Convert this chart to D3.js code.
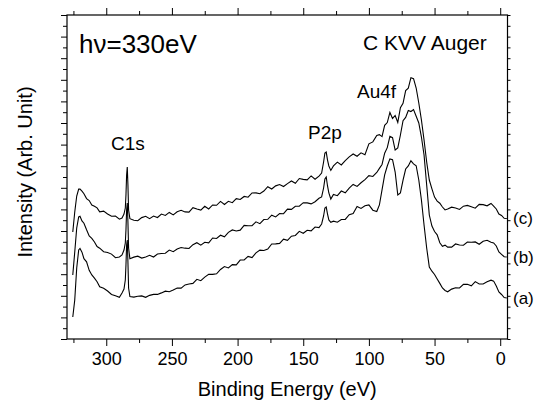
<!DOCTYPE html>
<html>
<head>
<meta charset="utf-8">
<script src="https://cdn.jsdelivr.net/npm/d3@7"></script>
<style>
  body { margin: 0; background: #fff; }
  svg { font-family: "Liberation Sans", Arial, sans-serif; }
</style>
</head>
<body>
<div id="chart"></div>
<script>
// binding energy grid (eV), shared by the three spectra
const energy = [325.5, 324, 322.5, 321, 320, 318.5, 317, 315, 313, 311, 309, 307, 305, 302, 299, 296, 293, 290, 288, 286.5,
  285.5, 285, 284.5, 284, 283.5, 283, 282, 279, 276, 273, 270, 267, 264, 261, 258, 255, 252, 249, 246, 243,
  240, 237, 234, 231, 228, 225, 222, 219, 216, 213, 210, 207, 204, 201, 198, 195, 192, 189, 186, 183,
  180, 177, 174, 171, 168, 165, 162, 159, 156, 153, 150, 147, 144, 141, 138, 136, 134.5, 133.5, 132.5, 131.5,
  130.5, 129, 127, 124, 121, 118, 115, 112, 109, 106, 103, 100, 97, 94, 92, 90, 88, 86, 84, 82,
  80, 78, 76, 74, 72, 70, 68, 66, 64, 62, 60, 58, 56, 54, 52, 50, 48, 46, 44, 42,
  40, 37, 34, 31, 28, 25, 22, 19, 16, 13, 10, 7, 5, 3, 1, -1, -3, -5];

// intensities (arb. unit, spectra offset)
const specA = [2.04, 3.61, 6.57, 8.24, 8.38, 8.04, 7.44, 7.14, 6.36, 5.93, 5.63, 5.30, 4.83, 4.69, 4.44, 4.12, 4.01, 3.87, 4.26, 4.63,
  5.46, 6.85, 8.70, 9.17, 7.13, 4.72, 3.93, 3.88, 3.96, 3.99, 3.86, 4.04, 4.13, 4.13, 4.27, 4.43, 4.37, 4.53, 4.72, 4.71,
  5.01, 5.09, 5.15, 5.53, 5.40, 5.73, 5.99, 5.98, 6.04, 6.44, 6.71, 6.58, 6.89, 6.86, 7.31, 7.32, 7.65, 7.54, 7.97, 8.23,
  8.20, 8.33, 8.80, 8.81, 8.85, 9.24, 9.13, 9.52, 9.59, 9.97, 9.79, 10.07, 10.01, 10.37, 10.32, 10.65, 11.39, 12.13, 12.22, 11.57,
  11.02, 10.81, 10.91, 10.81, 11.06, 11.07, 11.51, 11.62, 12.27, 12.09, 12.33, 12.41, 11.93, 11.81, 12.41, 13.80, 15.20, 16.02, 16.68, 16.60,
  15.46, 13.33, 13.52, 14.72, 15.74, 16.02, 16.50, 16.22, 16.04, 14.72, 12.87, 10.56, 8.43, 6.67, 6.28, 5.97, 5.55, 5.15, 4.72, 4.49,
  4.37, 4.62, 4.74, 4.72, 5.06, 5.06, 4.92, 5.31, 5.09, 5.09, 5.30, 5.45, 5.36, 4.91, 4.35, 4.12, 3.84, 3.80];

const specB = [5.93, 8.06, 10.28, 11.30, 11.36, 10.93, 10.72, 10.11, 9.55, 9.32, 8.98, 8.56, 8.41, 8.08, 8.01, 7.86, 7.53, 7.60, 7.78, 8.24,
  8.89, 10.09, 11.94, 12.59, 10.83, 8.43, 7.44, 7.58, 7.67, 7.49, 7.60, 7.75, 7.59, 7.87, 7.92, 7.94, 8.23, 8.08, 8.33, 8.47,
  8.41, 8.38, 8.73, 8.92, 8.69, 8.96, 8.90, 9.35, 9.31, 9.61, 9.46, 9.87, 10.10, 10.00, 10.08, 10.52, 10.48, 10.49, 10.85, 10.68,
  11.06, 11.08, 11.46, 11.30, 11.62, 11.60, 12.02, 12.00, 12.29, 12.29, 12.62, 12.60, 12.51, 12.71, 13.03, 13.15, 13.98, 14.81, 15.00, 14.17,
  13.52, 12.96, 13.39, 13.27, 13.70, 13.54, 13.97, 14.31, 14.13, 14.47, 14.75, 15.12, 15.05, 15.42, 15.80, 16.16, 17.20, 17.72, 18.76, 18.64,
  17.50, 17.69, 18.89, 20.22, 20.52, 21.16, 21.06, 21.24, 20.62, 20.00, 18.70, 17.04, 14.26, 11.48, 10.46, 9.95, 9.64, 8.91, 8.59, 8.69,
  8.51, 8.51, 8.80, 8.70, 8.68, 8.97, 8.96, 8.99, 8.77, 9.05, 9.14, 8.95, 8.89, 8.61, 8.06, 7.84, 7.62, 7.59];

const specC = [9.91, 11.76, 13.24, 13.89, 13.88, 13.69, 13.45, 13.00, 12.82, 12.41, 12.29, 12.14, 11.77, 11.84, 11.58, 11.36, 11.39, 11.09, 11.20, 11.57,
  12.13, 13.33, 15.19, 15.93, 14.26, 11.94, 11.14, 11.00, 10.95, 11.24, 11.36, 11.14, 11.38, 11.25, 11.57, 11.44, 11.72, 11.49, 11.78, 11.92,
  11.77, 11.75, 12.16, 12.03, 11.94, 12.29, 12.04, 12.41, 12.38, 12.74, 12.46, 12.75, 12.62, 13.00, 12.92, 13.20, 13.13, 13.52, 13.53, 13.45,
  13.70, 14.10, 13.89, 14.18, 14.30, 14.12, 14.39, 14.63, 14.42, 14.86, 14.78, 14.73, 15.10, 14.79, 15.08, 15.37, 16.39, 17.22, 17.31, 16.57,
  16.02, 15.61, 16.03, 16.38, 16.12, 16.52, 16.87, 17.13, 16.92, 17.24, 17.06, 18.07, 18.25, 18.85, 18.92, 18.74, 19.78, 20.04, 20.98, 20.42,
  20.70, 20.06, 21.42, 21.82, 23.00, 23.22, 24.20, 24.10, 23.24, 21.85, 20.28, 18.43, 16.39, 14.72, 13.90, 13.14, 12.77, 12.57, 12.22, 11.95,
  12.03, 12.21, 12.13, 12.00, 12.30, 12.37, 12.25, 12.11, 12.46, 12.44, 12.33, 12.55, 12.31, 12.04, 11.57, 11.44, 11.18, 11.16];

const seriesLabels = ["(a)", "(b)", "(c)"];
const xTicks = [300, 250, 200, 150, 100, 50, 0];
const xMinor = [325, 275, 225, 175, 125, 75, 25];

const W = 542, H = 403;
const plotL = 67, plotR = 507.5, plotT = 15, plotB = 339;

const svg = d3.select("#chart").append("svg")
  .attr("width", W)
  .attr("height", H);

const x = d3.scaleLinear().domain([329.9, -5.55]).range([plotL, plotR]);
const y = d3.scaleLinear().domain([0, 30]).range([plotB, plotT]);

// frame
svg.append("rect")
  .attr("x", plotL).attr("y", plotT)
  .attr("width", plotR - plotL).attr("height", plotB - plotT)
  .attr("fill", "none").attr("stroke", "#000").attr("stroke-width", 1.2);

// bottom axis
const xAxis = svg.append("g")
  .attr("transform", "translate(0," + plotB + ")")
  .call(d3.axisBottom(x).tickValues(xTicks).tickSize(7).tickPadding(6).tickFormat(d3.format("d")));
svg.append("g")
  .attr("transform", "translate(0," + plotB + ")")
  .call(d3.axisBottom(x).tickValues(xMinor).tickSize(4).tickFormat(""));

// top axis
svg.append("g")
  .attr("transform", "translate(0," + plotT + ")")
  .call(d3.axisTop(x).tickValues(xTicks).tickSize(7).tickFormat(""));
svg.append("g")
  .attr("transform", "translate(0," + plotT + ")")
  .call(d3.axisTop(x).tickValues(xMinor).tickSize(4).tickFormat(""));

// left axis, no labels
svg.append("g")
  .attr("transform", "translate(" + plotL + ",0)")
  .call(d3.axisLeft(y).tickValues(d3.range(0, 31, 2)).tickSize(6).tickFormat(""));
svg.append("g")
  .attr("transform", "translate(" + plotL + ",0)")
  .call(d3.axisLeft(y).tickValues(d3.range(1, 30, 2)).tickSize(4).tickFormat(""));

// right axis
svg.append("g")
  .attr("transform", "translate(" + plotR + ",0)")
  .call(d3.axisRight(y).tickValues(d3.range(0, 31, 1)).tickSize(3).tickFormat(""));

svg.selectAll(".domain").remove();
svg.selectAll(".tick line").attr("stroke", "#000").attr("stroke-width", 1);
xAxis.selectAll("text")
  .attr("font-size", 18)
  .attr("fill", "#000")
  .attr("font-family", "'Liberation Sans', Arial, sans-serif");

// spectra
const line = d3.line()
  .x(function(d) { return x(d[0]); })
  .y(function(d) { return y(d[1]); });

[specA, specB, specC].forEach(function(spec) {
  svg.append("path")
    .datum(energy.map(function(e, i) { return [e, spec[i]]; }))
    .attr("d", line)
    .attr("fill", "none")
    .attr("stroke", "#000")
    .attr("stroke-width", 1.1);
});

// series labels at right end
[specA, specB, specC].forEach(function(spec, i) {
  svg.append("text")
    .attr("x", 513)
    .attr("y", y(spec[spec.length - 1]) + 6)
    .attr("font-size", 17)
    .text(seriesLabels[i]);
});

// annotations
svg.append("text").attr("x", 79).attr("y", 53).attr("font-size", 26).text("h\u03bd=330eV");
svg.append("text").attr("x", 363).attr("y", 50).attr("font-size", 21).text("C KVV Auger");
svg.append("text").attr("x", 357).attr("y", 98).attr("font-size", 19).text("Au4f");
svg.append("text").attr("x", 308).attr("y", 139).attr("font-size", 19).text("P2p");
svg.append("text").attr("x", 111).attr("y", 150).attr("font-size", 19).text("C1s");

// axis titles
svg.append("text")
  .attr("x", (plotL + plotR) / 2).attr("y", 396)
  .attr("text-anchor", "middle")
  .attr("font-size", 20)
  .text("Binding Energy (eV)");

svg.append("text")
  .attr("transform", "translate(32,172) rotate(-90)")
  .attr("text-anchor", "middle")
  .attr("font-size", 20)
  .text("Intensity (Arb. Unit)");
</script>
</body>
</html>
